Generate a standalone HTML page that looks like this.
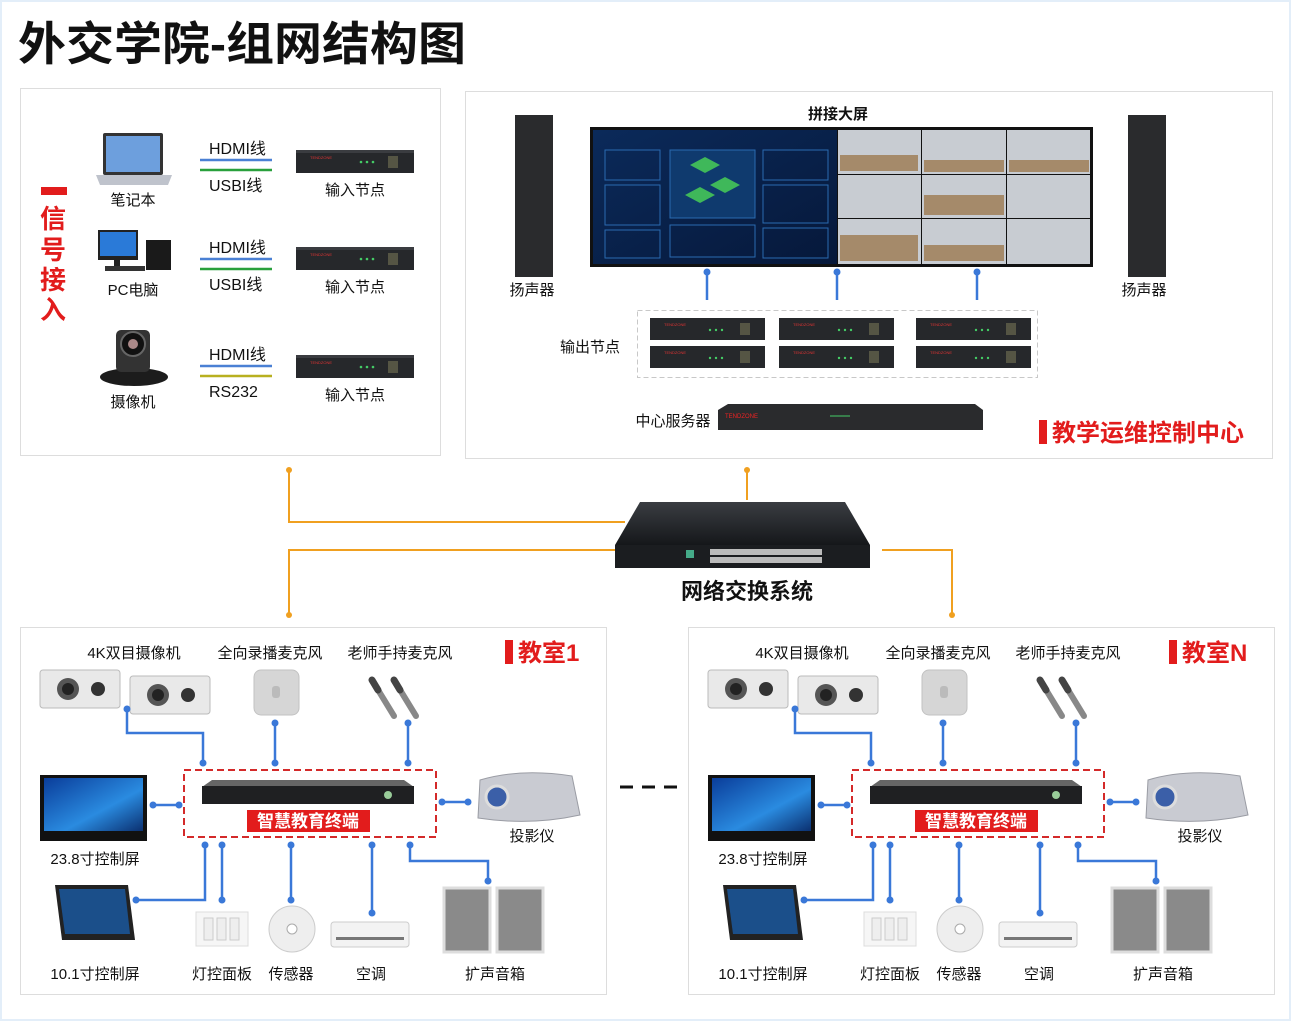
<!DOCTYPE html>
<html><head><meta charset="utf-8"><style>
html,body{margin:0;padding:0;background:#fff;}
svg{display:block;font-family:"Liberation Sans","Noto Sans CJK SC",sans-serif;}
</style></head><body>
<svg width="1291" height="1021" viewBox="0 0 1291 1021" xmlns="http://www.w3.org/2000/svg">
<defs>
<linearGradient id="scr" x1="0" y1="0" x2="1" y2="1"><stop offset="0" stop-color="#0b2a5a"/><stop offset="1" stop-color="#06183a"/></linearGradient>
<linearGradient id="win" x1="0" y1="0" x2="1" y2="1"><stop offset="0" stop-color="#0a3d9a"/><stop offset="0.6" stop-color="#2a8be0"/><stop offset="1" stop-color="#0b3070"/></linearGradient>
<linearGradient id="sw" x1="0" y1="0" x2="0" y2="1"><stop offset="0" stop-color="#3a3d42"/><stop offset="1" stop-color="#15171a"/></linearGradient>
<g id="node"><rect x="0" y="0" width="118" height="23" fill="#26282b"/><rect x="0" y="0" width="118" height="3" fill="#3a3c40"/><text x="14" y="9" font-size="4" fill="#d33">TENDZONE</text><circle cx="65" cy="12" r="1.3" fill="#4c6"/><circle cx="71" cy="12" r="1.3" fill="#4c6"/><circle cx="77" cy="12" r="1.3" fill="#4c6"/><rect x="92" y="6" width="10" height="12" fill="#554"/></g>
<g id="onode"><rect x="0" y="0" width="115" height="22" fill="#26282b"/><text x="14" y="8" font-size="4" fill="#d33">TENDZONE</text><circle cx="60" cy="12" r="1.2" fill="#4c6"/><circle cx="66" cy="12" r="1.2" fill="#4c6"/><circle cx="72" cy="12" r="1.2" fill="#4c6"/><rect x="90" y="5" width="10" height="12" fill="#554"/></g>
<g id="room">
 <rect x="40" y="670" width="80" height="38" rx="3" fill="#e9e9e9" stroke="#bbb"/><circle cx="68" cy="689" r="11" fill="#555"/><circle cx="68" cy="689" r="6" fill="#222"/><circle cx="98" cy="689" r="7" fill="#333"/>
 <rect x="130" y="676" width="80" height="38" rx="3" fill="#e9e9e9" stroke="#bbb"/><circle cx="158" cy="695" r="11" fill="#555"/><circle cx="158" cy="695" r="6" fill="#222"/><circle cx="188" cy="695" r="7" fill="#333"/>
 <rect x="254" y="670" width="45" height="45" rx="7" fill="#d6d6d6" stroke="#c2c2c2"/><rect x="272" y="686" width="8" height="12" rx="3" fill="#bbb"/>
 <path d="M372 680 L394 716" stroke="#888" stroke-width="6" stroke-linecap="round"/><path d="M394 680 L416 716" stroke="#888" stroke-width="6" stroke-linecap="round"/>
 <path d="M372 680 L378 690" stroke="#444" stroke-width="7" stroke-linecap="round"/><path d="M394 680 L400 690" stroke="#444" stroke-width="7" stroke-linecap="round"/>
 <g stroke="#3a78d8" stroke-width="2.5" fill="none">
  <path d="M127 709 V733 H203 V763"/><path d="M275 723 V763"/><path d="M408 723 V763"/>
  <path d="M150 805 H180"/><path d="M440 802 H470"/>
  <path d="M205 844 V900 H136"/><path d="M222 844 V900"/><path d="M291 844 V900"/><path d="M372 844 V913"/><path d="M410 844 V861 H488 V881"/>
 </g>
 <g fill="#3a78d8">
  <circle cx="127" cy="709" r="3.5"/><circle cx="203" cy="763" r="3.5"/><circle cx="275" cy="723" r="3.5"/><circle cx="275" cy="763" r="3.5"/><circle cx="408" cy="723" r="3.5"/><circle cx="408" cy="763" r="3.5"/>
  <circle cx="153" cy="805" r="3.5"/><circle cx="179" cy="805" r="3.5"/><circle cx="442" cy="802" r="3.5"/><circle cx="468" cy="802" r="3.5"/>
  <circle cx="205" cy="845" r="3.5"/><circle cx="136" cy="900" r="3.5"/><circle cx="222" cy="845" r="3.5"/><circle cx="222" cy="900" r="3.5"/><circle cx="291" cy="845" r="3.5"/><circle cx="291" cy="900" r="3.5"/><circle cx="372" cy="845" r="3.5"/><circle cx="372" cy="913" r="3.5"/><circle cx="410" cy="845" r="3.5"/><circle cx="488" cy="881" r="3.5"/>
 </g>
 <rect x="184" y="770" width="252" height="67" fill="none" stroke="#d42a2a" stroke-width="2" stroke-dasharray="7,4"/>
 <path d="M202 787 L212 780 H404 L414 787 Z" fill="#666"/>
 <rect x="202" y="786" width="212" height="18" fill="#1f2022"/>
 <circle cx="388" cy="795" r="4" fill="#9c9"/>
 <rect x="247" y="810" width="123" height="22" fill="#e21c1c"/>
 <rect x="40" y="775" width="107" height="66" fill="#111"/><rect x="44" y="778" width="99" height="53" fill="url(#win)"/>
 <path d="M480 780 Q520 768 572 776 L580 815 Q530 826 478 818 Z" fill="#c9cbd2" stroke="#9a9ca4"/><circle cx="497" cy="797" r="11" fill="#3b5fa8" stroke="#ddd" stroke-width="3"/>
 <path d="M55 885 L128 885 L135 940 L62 940 Z" fill="#222"/><path d="M59 889 L125 889 L130 934 L65 934 Z" fill="#1b4f8a"/>
 <rect x="196" y="912" width="52" height="34" fill="#f6f6f6" stroke="#ddd"/><rect x="204" y="918" width="9" height="22" fill="#eee" stroke="#ccc"/><rect x="217" y="918" width="9" height="22" fill="#eee" stroke="#ccc"/><rect x="230" y="918" width="9" height="22" fill="#eee" stroke="#ccc"/>
 <circle cx="292" cy="929" r="23" fill="#eee" stroke="#ccc"/><circle cx="292" cy="929" r="5" fill="#fff" stroke="#aaa"/>
 <rect x="331" y="922" width="78" height="25" rx="3" fill="#f3f3f3" stroke="#ccc"/><rect x="336" y="937" width="68" height="3" fill="#777"/>
 <rect x="444" y="888" width="46" height="64" fill="#8a8a8a" stroke="#ddd" stroke-width="3"/><rect x="497" y="888" width="46" height="64" fill="#8a8a8a" stroke="#ddd" stroke-width="3"/>
</g>
</defs>

<rect x="0" y="0" width="1291" height="1021" fill="#fff"/>
<rect x="0.5" y="0.5" width="1290" height="1020" fill="none" stroke="#e3eef9" stroke-width="3"/>
<text x="18" y="60" font-size="46" font-weight="bold" fill="#111" textLength="448" lengthAdjust="spacingAndGlyphs">外交学院-组网结构图</text>

<rect x="20.5" y="88.5" width="420" height="367" fill="#fff" stroke="#ddd"/>
<rect x="465.5" y="91.5" width="807" height="367" fill="#fff" stroke="#ddd"/>
<rect x="20.5" y="627.5" width="586" height="367" fill="#fff" stroke="#ddd"/>
<rect x="688.5" y="627.5" width="586" height="367" fill="#fff" stroke="#ddd"/>

<rect x="41" y="187" width="26" height="8" fill="#e21c1c"/>
<g font-size="26" font-weight="bold" fill="#e21c1c" text-anchor="middle">
<text x="53" y="228">信</text><text x="53" y="259">号</text><text x="53" y="289">接</text><text x="53" y="319">入</text></g>
<rect x="103" y="133" width="60" height="42" rx="2" fill="#333"/><rect x="106" y="136" width="54" height="36" fill="#6d9fdd"/><path d="M96 175 H172 L168 185 H100 Z" fill="#bfc3cc"/>
<rect x="98" y="230" width="40" height="30" fill="#222"/><rect x="100" y="232" width="36" height="24" fill="#2a7ad8"/><rect x="114" y="260" width="6" height="6" fill="#222"/><rect x="105" y="266" width="40" height="5" fill="#333"/><rect x="146" y="240" width="25" height="30" fill="#1a1a1a"/>
<ellipse cx="134" cy="377" rx="34" ry="9" fill="#1c1c1c"/><rect x="116" y="330" width="34" height="42" rx="5" fill="#333"/><circle cx="133" cy="344" r="12" fill="#111" stroke="#666" stroke-width="2"/><circle cx="133" cy="344" r="5" fill="#a88"/>
<g font-size="15" fill="#111" text-anchor="middle">
<text x="133" y="205">笔记本</text><text x="133" y="295">PC电脑</text><text x="133" y="407">摄像机</text>
<text x="355" y="195">输入节点</text><text x="355" y="292">输入节点</text><text x="355" y="400">输入节点</text></g>
<g font-size="16" fill="#111">
<text x="209" y="154">HDMI线</text><text x="209" y="191">USBI线</text>
<text x="209" y="253">HDMI线</text><text x="209" y="290">USBI线</text>
<text x="209" y="360">HDMI线</text><text x="209" y="397">RS232</text></g>
<g stroke-width="2.5">
<path d="M200 160 H272" stroke="#4a80d4"/><path d="M200 170 H272" stroke="#29a03c"/>
<path d="M200 259 H272" stroke="#4a80d4"/><path d="M200 269 H272" stroke="#29a03c"/>
<path d="M200 366 H272" stroke="#4a80d4"/><path d="M200 376 H272" stroke="#b8b020"/></g>
<use href="#node" x="296" y="150"/><use href="#node" x="296" y="247"/><use href="#node" x="296" y="355"/>

<text x="838" y="119" font-size="15" font-weight="bold" fill="#111" text-anchor="middle">拼接大屏</text>
<rect x="590" y="127" width="503" height="140" fill="#111"/>
<rect x="593" y="130" width="244" height="134" fill="url(#scr)"/>
<rect x="605" y="150" width="55" height="30" fill="none" stroke="#2a6ab0"/><rect x="605" y="185" width="55" height="40" fill="none" stroke="#2a6ab0"/><rect x="605" y="230" width="55" height="28" fill="none" stroke="#2a6ab0"/>
<rect x="670" y="150" width="85" height="68" fill="#0f3a6e" stroke="#2a6ab0"/><rect x="670" y="225" width="85" height="32" fill="none" stroke="#2a6ab0"/>
<rect x="763" y="150" width="65" height="30" fill="none" stroke="#2a6ab0"/><rect x="763" y="185" width="65" height="38" fill="none" stroke="#2a6ab0"/><rect x="763" y="228" width="65" height="30" fill="none" stroke="#2a6ab0"/>
<path d="M690 165 l15 -8 15 8 -15 8z M710 185 l15 -8 15 8 -15 8z M685 195 l15 -8 15 8 -15 8z" fill="#3fb85a"/>
<g fill="#c8ccd2"><rect x="838" y="130" width="83" height="44"/><rect x="922" y="130" width="84" height="44"/><rect x="1007" y="130" width="83" height="44"/><rect x="838" y="175" width="83" height="43"/><rect x="922" y="175" width="84" height="43"/><rect x="1007" y="175" width="83" height="43"/><rect x="838" y="219" width="83" height="45"/><rect x="922" y="219" width="84" height="45"/><rect x="1007" y="219" width="83" height="45"/></g>
<g fill="#a58a6a"><rect x="840" y="155" width="78" height="16"/><rect x="924" y="160" width="80" height="12"/><rect x="1009" y="160" width="80" height="12"/><rect x="924" y="195" width="80" height="20"/><rect x="840" y="235" width="78" height="26"/><rect x="924" y="245" width="80" height="16"/></g>
<rect x="515" y="115" width="38" height="162" fill="#2a2b2d"/><rect x="1128" y="115" width="38" height="162" fill="#2a2b2d"/>
<g font-size="15" fill="#111" text-anchor="middle"><text x="532" y="295">扬声器</text><text x="1144" y="295">扬声器</text>
<text x="590" y="352">输出节点</text><text x="673" y="426">中心服务器</text><text x="747" y="599" font-size="22" font-weight="bold">网络交换系统</text></g>
<g stroke="#3a78d8" stroke-width="2.5"><path d="M707 272 V300"/><path d="M837 272 V300"/><path d="M977 272 V300"/></g>
<g fill="#3a78d8"><circle cx="707" cy="272" r="3.5"/><circle cx="837" cy="272" r="3.5"/><circle cx="977" cy="272" r="3.5"/></g>
<rect x="637.5" y="310.5" width="400" height="67" fill="none" stroke="#c8c8c8" stroke-dasharray="5,3"/>
<use href="#onode" x="650" y="318"/><use href="#onode" x="779" y="318"/><use href="#onode" x="916" y="318"/>
<use href="#onode" x="650" y="346"/><use href="#onode" x="779" y="346"/><use href="#onode" x="916" y="346"/>
<path d="M718 410 L728 404 H975 L983 410 V430 H718 Z" fill="#2a2b2d"/><text x="725" y="418" font-size="6" fill="#e22">TENDZONE</text><path d="M830 416 h20" stroke="#4c6" stroke-width="1"/>
<rect x="1039" y="420" width="8" height="24" fill="#e21c1c"/><text x="1052" y="441" font-size="24" font-weight="bold" fill="#e21c1c">教学运维控制中心</text>

<g stroke="#f0a020" stroke-width="2" fill="none"><path d="M289 470 V522 H625"/><path d="M289 615 V550 H620"/><path d="M747 470 V500"/><path d="M882 550 H952 V615"/></g>
<g fill="#f0a020"><circle cx="289" cy="470" r="3"/><circle cx="289" cy="615" r="3"/><circle cx="747" cy="470" r="3"/><circle cx="952" cy="615" r="3"/></g>
<path d="M640 502 H845 L870 545 H615 Z" fill="url(#sw)"/>
<rect x="615" y="545" width="255" height="23" fill="#1b1d20"/>
<g fill="#bbb"><rect x="710" y="549" width="112" height="6"/><rect x="710" y="557" width="112" height="6"/></g>
<rect x="686" y="550" width="8" height="8" fill="#4a8"/>

<path d="M620 787 H682" stroke="#111" stroke-width="3" stroke-dasharray="13,9"/>

<use href="#room"/>
<use href="#room" x="668"/>
<g font-size="15" fill="#111" text-anchor="middle">
<text x="134" y="658">4K双目摄像机</text><text x="270" y="658">全向录播麦克风</text><text x="400" y="658">老师手持麦克风</text>
<text x="95" y="864">23.8寸控制屏</text><text x="532" y="841">投影仪</text>
<text x="95" y="979">10.1寸控制屏</text><text x="222" y="979">灯控面板</text><text x="291" y="979">传感器</text><text x="371" y="979">空调</text><text x="495" y="979">扩声音箱</text>
<text x="802" y="658">4K双目摄像机</text><text x="938" y="658">全向录播麦克风</text><text x="1068" y="658">老师手持麦克风</text>
<text x="763" y="864">23.8寸控制屏</text><text x="1200" y="841">投影仪</text>
<text x="763" y="979">10.1寸控制屏</text><text x="890" y="979">灯控面板</text><text x="959" y="979">传感器</text><text x="1039" y="979">空调</text><text x="1163" y="979">扩声音箱</text>
</g>
<g font-size="17" font-weight="bold" fill="#fff" text-anchor="middle"><text x="308" y="827">智慧教育终端</text><text x="976" y="827">智慧教育终端</text></g>
<rect x="505" y="640" width="8" height="24" fill="#e21c1c"/><text x="518" y="661" font-size="24" font-weight="bold" fill="#e21c1c">教室1</text>
<rect x="1169" y="640" width="8" height="24" fill="#e21c1c"/><text x="1182" y="661" font-size="24" font-weight="bold" fill="#e21c1c">教室N</text>
</svg>
</body></html>
